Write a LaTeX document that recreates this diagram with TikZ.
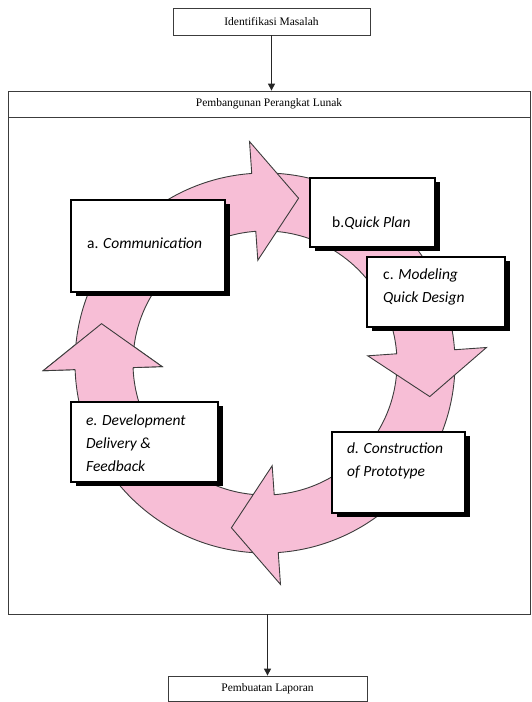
\documentclass[tikz,border=0pt]{standalone}
\usepackage{fontspec}
\setmainfont{Liberation Serif}
\newfontfamily\stepfont{Carlito}
\usepackage{tikz}
\usetikzlibrary{arrows.meta, shadows, positioning}
\definecolor{ringpink}{RGB}{247,190,214}
\definecolor{ringline}{RGB}{60,60,60}
\tikzstyle{flowbox} = [rectangle, draw=ringline, line width=0.8pt, font=\fontsize{11.5}{13}\selectfont, inner sep=0pt]
\tikzstyle{stepbox} = [rectangle, draw=black, line width=1.5pt, fill=white, inner sep=0pt, drop shadow={shadow xshift=4.5pt, shadow yshift=-4.5pt, fill=black, opacity=1}]
\tikzstyle{steptext} = [anchor=west, align=left, inner sep=0pt, font=\stepfont\fontsize{15.5}{23}\selectfont]
\tikzstyle{cyclearrow} = [fill=ringpink, draw=ringline, line width=0.9pt, line join=miter]
\tikzstyle{flowarrow} = [draw=black!85, line width=1.1pt, -{Triangle[length=7pt, width=7pt]}]

\begin{document}
\begin{tikzpicture}[x=1pt, y=1pt]
\useasboundingbox (0,0) rectangle (532,702);
\node (ident) [flowbox, minimum width=197pt, minimum height=27pt] at (271.5,680.5) {Identifikasi Masalah};
\node (ppl) [flowbox, minimum width=522pt, minimum height=523pt] at (269,349.5) {};
\node (pplhead) [flowbox, minimum width=522pt, minimum height=26pt, anchor=north] at (ppl.north) {Pembangunan Perangkat Lunak};
\node (laporan) [flowbox, minimum width=199pt, minimum height=25pt] at (267.5,13.5) {Pembuatan Laporan};
\draw[flowarrow] (ident.south) -- (ident.south |- ppl.north);
\draw[flowarrow] (laporan.north |- ppl.south) -- (laporan.north);

% cycle arrows
\begin{scope}[shift={(265,339)}]
\draw[cyclearrow, rotate=-178] (88:132) -- (88:190) arc[start angle=88, end angle=0, radius=190pt] -- (222,0) -- (162,-45) -- (103,0) -- (132,0) arc[start angle=0, end angle=88, radius=132pt] -- cycle;
\draw[cyclearrow, rotate=-86] (86:132) -- (86:190) arc[start angle=86, end angle=0, radius=190pt] -- (222,0) -- (162,-45) -- (103,0) -- (132,0) arc[start angle=0, end angle=86, radius=132pt] -- cycle;
\draw[cyclearrow, rotate=4] (86:132) -- (86:190) arc[start angle=86, end angle=0, radius=190pt] -- (222,0) -- (162,-45) -- (103,0) -- (132,0) arc[start angle=0, end angle=86, radius=132pt] -- cycle;
\draw[cyclearrow, rotate=94] (84:132) -- (84:190) arc[start angle=84, end angle=0, radius=190pt] -- (222,0) -- (162,-45) -- (103,0) -- (132,0) arc[start angle=0, end angle=84, radius=132pt] -- cycle;
% head on top of the next tail
\fill[ringpink, rotate=-178] (103,0) -- (162,-45) -- (222,0) -- cycle;
\draw[cyclearrow, fill=none, rotate=-178] (190,0) -- (222,0) -- (162,-45) -- (103,0) -- (132,0);
\end{scope}

\node (comm) [stepbox, minimum width=154pt, minimum height=92pt] at (148,456) {};
\node (plan) [stepbox, minimum width=125pt, minimum height=69pt] at (372.5,489.5) {};
\node (model) [stepbox, minimum width=138pt, minimum height=70pt] at (436,410) {};
\node (constr) [stepbox, minimum width=133pt, minimum height=81pt] at (398.5,229.5) {};
\node (deliv) [stepbox, minimum width=147pt, minimum height=80pt] at (144.5,260) {};
\node (commtext) [steptext] at (87,459) {a. \textit{Communication}};
\node (plantext) [steptext] at (332,479) {b.\textit{Quick Plan}};
\node (modeltext) [steptext] at (383,415.5) {c. \textit{Modeling}\\\textit{Quick Design}};
\node (constrtext) [steptext] at (347,241) {\textit{d. Construction}\\\textit{of Prototype}};
\node (delivtext) [steptext] at (86,259.3) {\textit{e. Development}\\\textit{Delivery \&}\\\textit{Feedback}};
\end{tikzpicture}
\end{document}
